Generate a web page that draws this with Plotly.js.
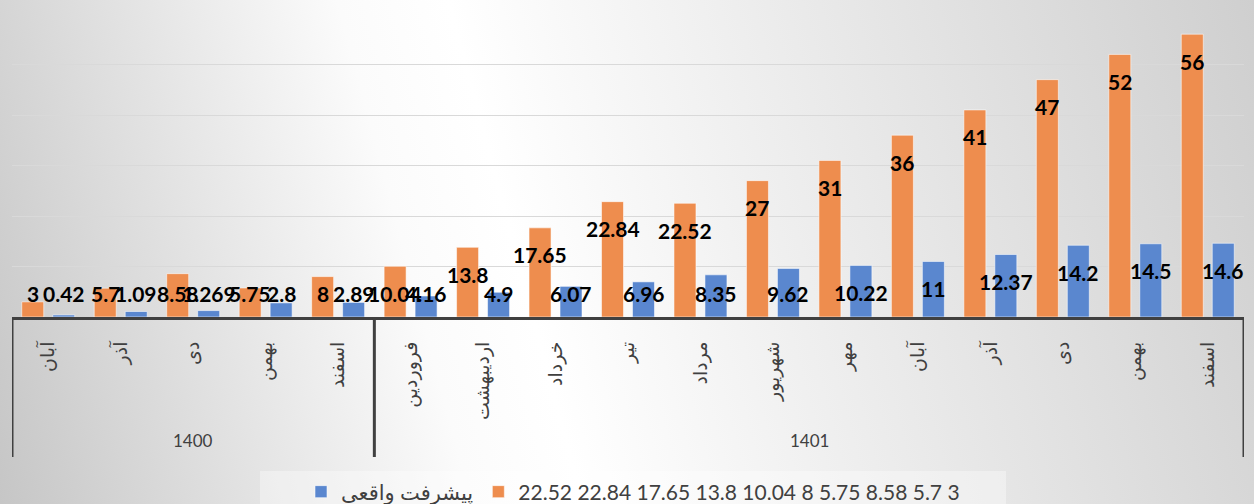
<!DOCTYPE html>
<html><head><meta charset="utf-8">
<script src="https://cdn.plot.ly/plotly-3.0.1.min.js"></script>
<style>
html,body{margin:0;padding:0;width:1254px;height:504px;overflow:hidden;
background:linear-gradient(75deg,#c6c6c6 0%,#fbfbfb 34%,#ffffff 42%,#cfcfcf 100%);}
#chart{width:1254px;height:504px;}
</style></head><body><div id="chart"></div>
<script>
const years = ['1400','1400','1400','1400','1400',
  '1401','1401','1401','1401','1401','1401','1401','1401','1401','1401','1401','1401'];
const months = ['آبان','آذر','دی','بهمن','اسفند',
  'فروردین','اردیبهشت','خرداد','تیر','مرداد','شهریور','مهر','آبان','آذر','دی','بهمن','اسفند'];
const planned = [3,5.7,8.58,5.75,8,10.04,13.8,17.65,22.84,22.52,27,31,36,41,47,52,56];
const actual = [0.42,1.09,1.269,2.8,2.89,4.16,4.9,6.07,6.96,8.35,9.62,10.22,11,12.37,14.2,14.5,14.6];
const plannedName = '22.52 22.84 17.65 13.8 10.04 8 5.75 8.58 5.7 3';
const actualName = 'پیشرفت واقعی';
const yTicks = [0,10,20,30,40,50,60];

const ORANGE = '#EE8D4E', BLUE = '#5A87CF';
const FONT = "Lato, 'DejaVu Sans', sans-serif";
const AR_FONT = "'DejaVu Sans', sans-serif";

// unique category keys (year + month), labelled with the month only
const keys = years.map((y,i)=> y + ' ' + months[i]);

const traces = [
  {type:'bar', name: plannedName, x: keys, y: planned,
   marker:{color: ORANGE, line:{color:'rgba(255,255,255,0.55)', width:1}}, hoverinfo:'skip'},
  {type:'bar', name: actualName, x: keys, y: actual,
   marker:{color: BLUE, line:{color:'rgba(255,255,255,0.55)', width:1}}, hoverinfo:'skip'}
];

const LABEL_FLOOR = 10.1;
const annotations = [];
function addLabels(vals, shift){
  vals.forEach((v,i)=>{
    annotations.push({xref:'x', yref:'y', x:keys[i], y:Math.max(v, LABEL_FLOOR), xshift:shift, yshift:-27,
      text:String(v), showarrow:false, xanchor:'center', yanchor:'middle',
      font:{family:FONT, size:21, color:'#000000', weight:700}});
  });
}
addLabels(planned, -15.5);
addLabels(actual, 15.5);

// year groups
const groups = [];
years.forEach((y,i)=>{
  const g = groups.find(gg=>gg.year===y);
  if(g) g.last = i; else groups.push({year:y, first:i, last:i});
});
const yearLabelY = -123/303;
const divY = -140/303;
const shapes = [];
groups.forEach((g,gi)=>{
  annotations.push({xref:'x', yref:'paper', x:(g.first+g.last)/2, y:yearLabelY,
    text:g.year, showarrow:false, xanchor:'center', yanchor:'middle',
    font:{family:FONT, size:17, color:'#404040'}});
  const edges = gi===0 ? [g.first-0.5, g.last+0.5] : [g.last+0.5];
  edges.forEach(e=>shapes.push({type:'line', xref:'x', yref:'paper',
    x0:e, x1:e, y0:0, y1:divY, line:{color:'#404040', width:3}}));
});
shapes.push({type:'rect', xref:'paper', yref:'paper', layer:'below',
  x0:(260-12)/1232, x1:(1006-12)/1232, y0:(317-471)/303, y1:(317-520)/303,
  fillcolor:'rgba(255,255,255,0.35)', line:{width:0}});

const layout = {
  width:1254, height:504,
  margin:{l:12, r:10, t:14, b:187},
  paper_bgcolor:'rgba(0,0,0,0)', plot_bgcolor:'rgba(0,0,0,0)',
  barmode:'group', bargap:0.145, bargroupgap:0.29,
  font:{family:FONT, color:'#404040'},
  xaxis:{type:'category', showline:true, linecolor:'#404040', linewidth:3,
    tickmode:'array', tickvals:keys, ticktext:months,
    ticks:'', tickangle:-90, ticklabelstandoff:14, automargin:false,
    tickfont:{family:AR_FONT, size:19, color:'#404040'}, showgrid:false,
    range:[-0.5, keys.length-0.5]},
  yaxis:{range:[0,60], tickvals:yTicks, showticklabels:false, showgrid:true,
    gridcolor:'#d9d9d9', gridwidth:1, zeroline:false, showline:false},
  showlegend:true,
  legend:{orientation:'h', x:(633-12)/1232, xanchor:'center', yref:'container', y:(504-492)/504, yanchor:'middle',
    traceorder:'reversed', bgcolor:'rgba(0,0,0,0)', font:{family:FONT, size:21, color:'#404040'}},
  annotations: annotations,
  shapes: shapes
};
Plotly.newPlot('chart', traces, layout, {staticPlot:true});
</script></body></html>
